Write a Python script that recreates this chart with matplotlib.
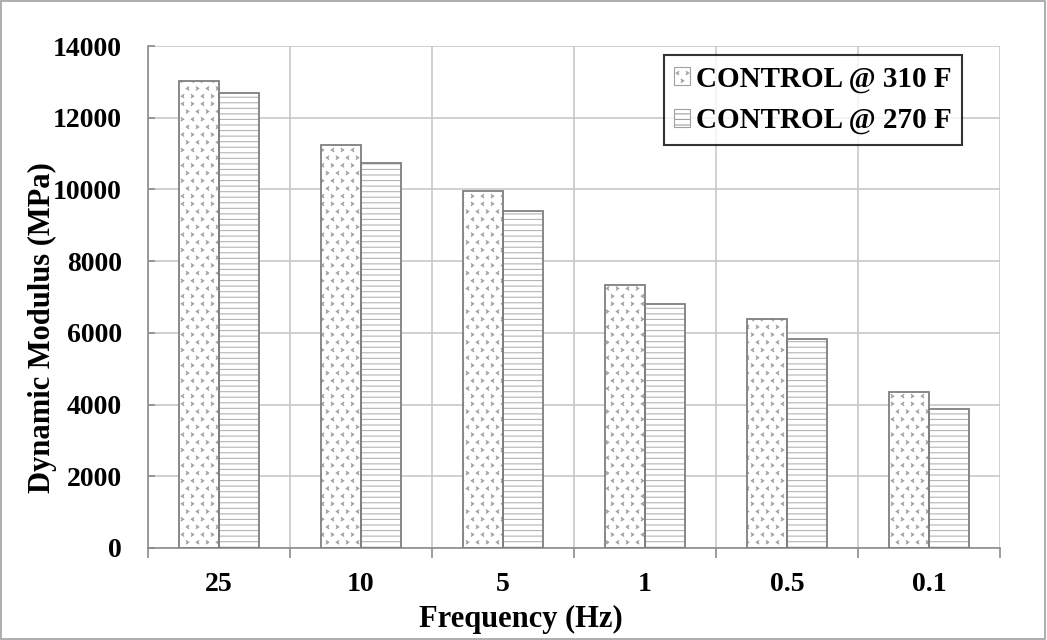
import numpy as np
import matplotlib
matplotlib.use('Agg')
import matplotlib.pyplot as plt
import matplotlib.hatch as mhatch
from matplotlib.patches import Patch, Rectangle

# data
frequencies = ['25', '10', '5', '1', '0.5', '0.1']
modulus_310 = [13030, 11250, 9950, 7330, 6390, 4350]
modulus_270 = [12700, 10730, 9400, 6800, 5830, 3870]
series_labels = ['CONTROL @ 310 F', 'CONTROL @ 270 F']


# small "< >" chevron fill like the spreadsheet pattern, mapped onto the 'o' hatch
class ChevronHatch(mhatch.HatchPatternBase):
    def __init__(self, hatch, density):
        self.on = hatch.count('o') > 0
        self.rows = 13
        self.cols = 10
        self.num_vertices = self.rows * self.cols * 3 if self.on else 0

    def set_vertices_and_codes(self, vertices, codes):
        dx = 1.0 / self.cols
        dy = 1.0 / self.rows
        w = 0.012
        h = 0.016
        k = 0
        for i in range(self.rows):
            for j in range(self.cols):
                cx = (j + 0.25 + 0.5 * (i % 2)) * dx
                cy = (i + 0.5) * dy
                s = 1 if (i // 2 + j) % 2 == 0 else -1
                vertices[k] = (cx + s * w, cy + h)
                vertices[k + 1] = (cx - s * w, cy)
                vertices[k + 2] = (cx + s * w, cy - h)
                codes[k] = 1
                codes[k + 1] = 2
                codes[k + 2] = 2
                k += 3


mhatch._hatch_types = [ChevronHatch if t is mhatch.SmallCircles else t
                       for t in mhatch._hatch_types]

plt.rcParams['font.family'] = ['Liberation Serif', 'DejaVu Serif']
plt.rcParams['font.weight'] = 'bold'
plt.rcParams['hatch.linewidth'] = 0.8

fig = plt.figure(figsize=(10.47, 6.40), dpi=100)
ax = fig.add_axes([0.1414, 0.1438, 0.8136, 0.7843])

x = np.arange(len(frequencies))
w = 0.28
edge_col = '#7f7f7f'

ax.bar(x - w / 2, modulus_310, w, color='white', edgecolor='#a0a0a0', hatch='o', linewidth=0, zorder=2)
ax.bar(x + w / 2, modulus_270, w, color='white', edgecolor='#b4b4b4', hatch='---', linewidth=0, zorder=2)
ax.bar(x - w / 2, modulus_310, w, fill=False, edgecolor=edge_col, linewidth=1.3, zorder=3)
ax.bar(x + w / 2, modulus_270, w, fill=False, edgecolor=edge_col, linewidth=1.3, zorder=3)

ax.set_xlim(-0.5, len(frequencies) - 0.5)
ax.set_ylim(0, 14000)
ax.set_yticks(np.arange(0, 14001, 2000))
ax.set_xticks(x)
ax.set_xticklabels(frequencies)
ax.set_xticks(np.arange(-0.5, len(frequencies)), minor=True)

ax.grid(True, which='major', axis='y', color='#c8c8c8', linewidth=1.2, zorder=0)
ax.grid(True, which='minor', axis='x', color='#c8c8c8', linewidth=1.2, zorder=0)
ax.set_axisbelow(True)

for side in ['top', 'right']:
    ax.spines[side].set_visible(False)
for side in ['left', 'bottom']:
    ax.spines[side].set_color('#8c8c8c')
    ax.spines[side].set_linewidth(1.2)

ax.tick_params(axis='x', which='major', length=0, pad=17, labelsize=20)
ax.tick_params(axis='x', which='minor', length=7, width=1.2, color='#8c8c8c')
ax.tick_params(axis='y', direction='in', length=5, width=1.2, color='#8c8c8c', labelsize=20, pad=19)

ax.set_xlabel('Frequency (Hz)', fontsize=22, fontweight='bold')
ax.set_ylabel('Dynamic Modulus (MPa)', fontsize=22, fontweight='bold')
ax.xaxis.set_label_coords(0.438, -0.113)
ax.yaxis.set_label_coords(-0.107, 0.44)

handles = [Patch(facecolor='white', edgecolor='#a0a0a0', hatch='o', linewidth=0.8),
           Patch(facecolor='white', edgecolor='#a0a0a0', hatch='---', linewidth=0.8)]
leg = ax.legend(handles, series_labels, loc='upper right', bbox_to_anchor=(0.955, 0.982),
                prop={'size': 21, 'weight': 'bold'}, frameon=True, fancybox=False,
                handlelength=0.55, handleheight=0.55, handletextpad=0.2,
                labelspacing=0.5, borderpad=0.35, borderaxespad=0)
leg.get_frame().set_edgecolor('black')
leg.get_frame().set_linewidth(1.5)

fig.patches.append(Rectangle((0.001, 0.001), 0.997, 0.997, transform=fig.transFigure,
                             fill=False, edgecolor='#a0a0a0', linewidth=1.2))

fig.savefig('out.png', dpi=100)
